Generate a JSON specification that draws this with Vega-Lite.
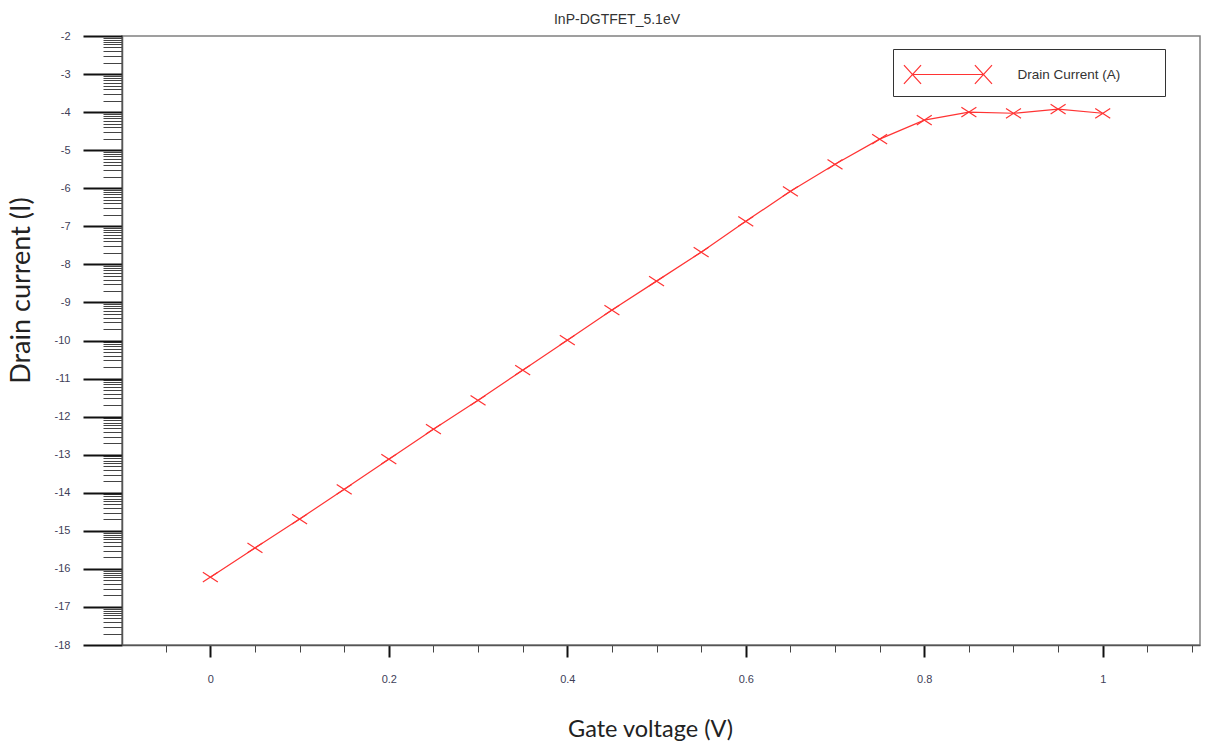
{
  "$schema": "https://vega.github.io/schema/vega-lite/v6.json",
  "width": 1078,
  "height": 609,
  "autosize": {"type": "none"},
  "padding": {"left": 122, "top": 36, "right": 5, "bottom": 99},
  "background": "white",
  "config": {
    "view": {"stroke": "#808080", "strokeWidth": 1.5},
    "axis": {"grid": false}
  },
  "title": {
    "text": "InP-DGTFET_5.1eV",
    "anchor": "middle",
    "frame": "group",
    "dx": -44,
    "offset": 3,
    "fontSize": 14,
    "font": "Liberation Sans",
    "fontWeight": "normal",
    "color": "#333"
  },
  "data": {
    "values": [
      {"gate_voltage": 0.00, "drain_current": 6.03e-17, "series": "Drain Current (A)"},
      {"gate_voltage": 0.05, "drain_current": 3.55e-16, "series": "Drain Current (A)"},
      {"gate_voltage": 0.10, "drain_current": 2.04e-15, "series": "Drain Current (A)"},
      {"gate_voltage": 0.15, "drain_current": 1.23e-14, "series": "Drain Current (A)"},
      {"gate_voltage": 0.20, "drain_current": 7.59e-14, "series": "Drain Current (A)"},
      {"gate_voltage": 0.25, "drain_current": 4.68e-13, "series": "Drain Current (A)"},
      {"gate_voltage": 0.30, "drain_current": 2.69e-12, "series": "Drain Current (A)"},
      {"gate_voltage": 0.35, "drain_current": 1.66e-11, "series": "Drain Current (A)"},
      {"gate_voltage": 0.40, "drain_current": 1.02e-10, "series": "Drain Current (A)"},
      {"gate_voltage": 0.45, "drain_current": 6.31e-10, "series": "Drain Current (A)"},
      {"gate_voltage": 0.50, "drain_current": 3.63e-9, "series": "Drain Current (A)"},
      {"gate_voltage": 0.55, "drain_current": 2.09e-8, "series": "Drain Current (A)"},
      {"gate_voltage": 0.60, "drain_current": 1.35e-7, "series": "Drain Current (A)"},
      {"gate_voltage": 0.65, "drain_current": 8.32e-7, "series": "Drain Current (A)"},
      {"gate_voltage": 0.70, "drain_current": 4.27e-6, "series": "Drain Current (A)"},
      {"gate_voltage": 0.75, "drain_current": 1.95e-5, "series": "Drain Current (A)"},
      {"gate_voltage": 0.80, "drain_current": 6.17e-5, "series": "Drain Current (A)"},
      {"gate_voltage": 0.85, "drain_current": 1.00e-4, "series": "Drain Current (A)"},
      {"gate_voltage": 0.90, "drain_current": 9.33e-5, "series": "Drain Current (A)"},
      {"gate_voltage": 0.95, "drain_current": 1.20e-4, "series": "Drain Current (A)"},
      {"gate_voltage": 1.00, "drain_current": 9.33e-5, "series": "Drain Current (A)"}
    ]
  },
  "mark": {
    "type": "line",
    "strokeWidth": 1.2,
    "point": {
      "shape": "M-1,-0.65L1,0.65M-1,0.65L1,-0.65",
      "filled": false,
      "size": 225,
      "strokeWidth": 1.2
    }
  },
  "encoding": {
    "x": {
      "field": "gate_voltage",
      "type": "quantitative",
      "scale": {"domain": [-0.099, 1.109], "nice": false, "zero": false},
      "axis": {
        "title": "Gate voltage (V)",
        "titleFont": "Lato",
        "titleFontSize": 23.5,
        "titleFontWeight": "normal",
        "titleColor": "#222",
        "titleX": 528,
        "titleY": 91,
        "titleAlign": "center",
        "titleBaseline": "alphabetic",
        "values": [-0.05, 0, 0.05, 0.1, 0.15, 0.2, 0.25, 0.3, 0.35, 0.4, 0.45, 0.5, 0.55, 0.6, 0.65, 0.7, 0.75, 0.8, 0.85, 0.9, 0.95, 1, 1.05, 1.1],
        "labelExpr": "abs(datum.value*5 - round(datum.value*5)) < 0.001 ? '' + round(datum.value*10)/10 : ''",
        "labelOverlap": false,
        "labelFont": "Liberation Sans",
        "labelFontSize": 11,
        "labelColor": "#404058",
        "labelPadding": 16,
        "tickSize": {"condition": {"test": "abs(datum.value*5 - round(datum.value*5)) < 0.001", "value": 12}, "value": 7},
        "tickWidth": {"condition": {"test": "abs(datum.value*5 - round(datum.value*5)) < 0.001", "value": 2}, "value": 1},
        "tickColor": {"condition": {"test": "abs(datum.value*5 - round(datum.value*5)) < 0.001", "value": "#111"}, "value": "#444"},
        "domainColor": "#555",
        "domainWidth": 1.5
      }
    },
    "y": {
      "field": "drain_current",
      "type": "quantitative",
      "scale": {"type": "log", "domain": [1e-18, 1e-2], "nice": false},
      "axis": {
        "title": "Drain current (I)",
        "titleFont": "Lato",
        "titleFontSize": 27,
        "titleFontWeight": "normal",
        "titleColor": "#222",
        "titleAngle": -90,
        "titleX": -93,
        "titleY": 254,
        "titleAlign": "center",
        "titleBaseline": "alphabetic",
        "tickCount": 200,
        "labelOverlap": false,
        "labelExpr": "abs(log(datum.value)/LN10 - round(log(datum.value)/LN10)) < 0.001 ? '' + round(log(datum.value)/LN10) : ''",
        "labelFont": "Liberation Sans",
        "labelFontSize": 11,
        "labelColor": "#404058",
        "labelPadding": 13,
        "tickSize": {"condition": {"test": "abs(log(datum.value)/LN10 - round(log(datum.value)/LN10)) < 0.001", "value": 39}, "value": 19},
        "tickWidth": {"condition": {"test": "abs(log(datum.value)/LN10 - round(log(datum.value)/LN10)) < 0.001", "value": 2}, "value": 1},
        "tickColor": {"condition": {"test": "abs(log(datum.value)/LN10 - round(log(datum.value)/LN10)) < 0.001", "value": "#111"}, "value": "#444"},
        "domainColor": "#555",
        "domainWidth": 1.5
      }
    },
    "color": {
      "field": "series",
      "type": "nominal",
      "scale": {"domain": ["Drain Current (A)"], "range": ["#ff3333"]},
      "legend": {
        "orient": "none",
        "legendX": 771,
        "legendY": 13,
        "title": "\u00a0",
        "titleOrient": "right",
        "titlePadding": 35,
        "titleFontSize": 1,
        "symbolType": "M-0.57,-0.63L0.57,0.63M-0.57,0.63L0.57,-0.63M0,0H4.73M4.16,-0.63L5.3,0.63M4.16,0.63L5.3,-0.63",
        "symbolSize": 900,
        "symbolStrokeColor": "#ff3333",
        "symbolFillColor": "transparent",
        "symbolStrokeWidth": 1.2,
        "symbolOffset": -6,
        "labelOffset": 89,
        "labelFont": "Liberation Sans",
        "labelFontSize": 13.5,
        "labelColor": "#333",
        "padding": 9.5,
        "strokeColor": "#333",
        "fillColor": "white",
        "cornerRadius": 0
      }
    }
  }
}
